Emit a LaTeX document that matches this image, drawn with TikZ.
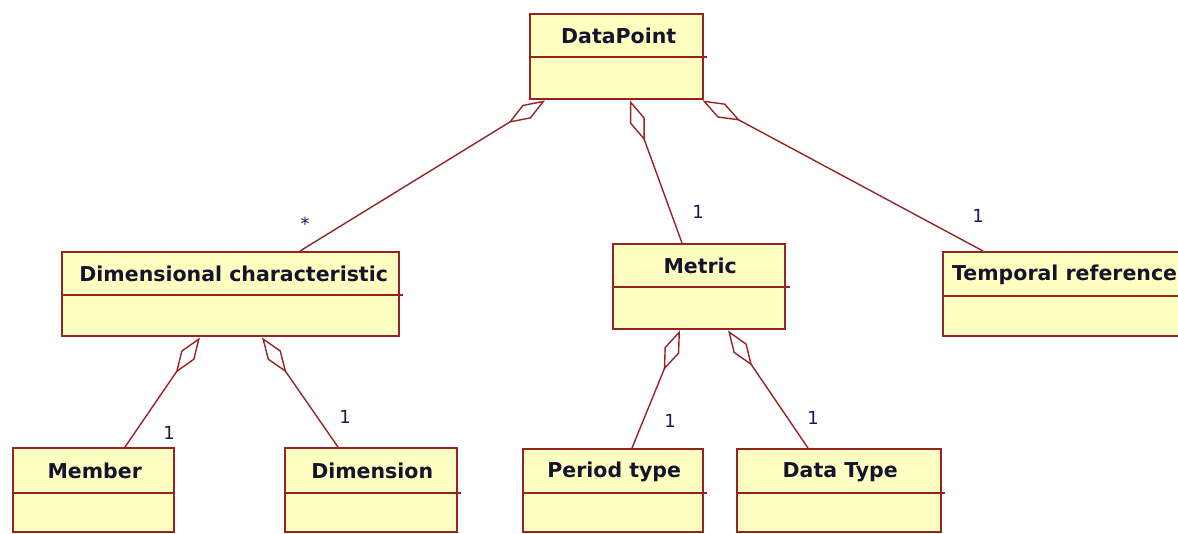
\documentclass[tikz,border=0pt]{standalone}
\usepackage{fontspec}
\setmainfont{DejaVu Sans}
\usetikzlibrary{calc,arrows.meta}
\definecolor{boxfill}{RGB}{255,255,194}
\definecolor{boxline}{RGB}{150,36,36}
\definecolor{txt}{RGB}{20,20,45}
\definecolor{numtxt}{RGB}{25,25,90}
\begin{document}
\begin{tikzpicture}[x=1pt,y=-1pt,
  classbox/.style={draw=boxline, fill=boxfill, line width=2.4pt, anchor=north west, inner sep=0pt},
  divider/.style={draw=boxline, line width=2.2pt},
  classtitle/.style={text=txt, font=\fontsize{20.5}{24}\selectfont\bfseries, inner sep=0pt},
  mult/.style={text=numtxt, font=\fontsize{18}{21}\selectfont, inner sep=0pt},
  aggr/.style={draw=boxline, line width=1.4pt, {Diamond[open, length=43pt, width=16pt, line width=1.4pt]}-}]
\useasboundingbox (0,0) rectangle (1178,533);
\clip (0,0) rectangle (1178,533);

% classes
\node[classbox, minimum width=173pt, minimum height=85pt] (dp) at (529,13) {};
\draw[divider] (dp.west |- 0,57) -- ([xshift=3pt]dp.east |- 0,57);
\node[classtitle] (dpt) at ($(dp.north)+(2,23)$) {DataPoint};

\node[classbox, minimum width=337pt, minimum height=84pt] (dc) at (61,251) {};
\draw[divider] (dc.west |- 0,295) -- ([xshift=3pt]dc.east |- 0,295);
\node[classtitle] (dct) at ($(dc.north)+(3,23)$) {Dimensional characteristic};

\node[classbox, minimum width=172pt, minimum height=85pt] (met) at (612,243) {};
\draw[divider] (met.west |- 0,287) -- ([xshift=4pt]met.east |- 0,287);
\node[classtitle] (mett) at ($(met.north)+(1,23)$) {Metric};

\node[classbox, minimum width=260pt, minimum height=84pt] (tr) at (942,251) {};
\draw[divider] (tr.west |- 0,296) -- (tr.east |- 0,296);
\node[classtitle, anchor=west] (trt) at ($(tr.north west)+(10,24)$) {Temporal reference};

\node[classbox, minimum width=161pt, minimum height=84pt] (mem) at (12,447) {};
\draw[divider] (mem.west |- 0,493) -- (mem.east |- 0,493);
\node[classtitle] (memt) at ($(mem.north)+(1,24)$) {Member};

\node[classbox, minimum width=172pt, minimum height=84pt] (dim) at (284,447) {};
\draw[divider] (dim.west |- 0,493) -- ([xshift=3pt]dim.east |- 0,493);
\node[classtitle] (dimt) at ($(dim.north)+(1,24)$) {Dimension};

\node[classbox, minimum width=180pt, minimum height=83pt] (pt) at (522,448) {};
\draw[divider] (pt.west |- 0,493) -- ([xshift=3pt]pt.east |- 0,493);
\node[classtitle] (ptt) at ($(pt.north)+(1,24)$) {Period type};

\node[classbox, minimum width=204pt, minimum height=83pt] (dt) at (736,448) {};
\draw[divider] (dt.west |- 0,493) -- ([xshift=3pt]dt.east |- 0,493);
\node[classtitle] (dtt) at ($(dt.north)+(1,24)$) {Data Type};

% aggregations
\draw[aggr] ($(dp.south west)+(16,0)$) -- ($(dc.north west)+(239,0)$);
\draw[aggr] ($(dp.south west)+(101,0)$) -- ($(met.north west)+(70,0)$);
\draw[aggr] ($(dp.south east)+(-2,0)$) -- ($(tr.north west)+(41,0)$);
\draw[aggr] ($(dc.south west)+(139,0)$) -- ($(mem.north west)+(113,0)$);
\draw[aggr] ($(dc.south west)+(201,0)$) -- ($(dim.north west)+(54,0)$);
\draw[aggr] ($(met.south west)+(68,0)$) -- ($(pt.north west)+(110,0)$);
\draw[aggr] ($(met.south west)+(116,0)$) -- ($(dt.north west)+(72,0)$);

% multiplicities
\node[mult] (m1) at (305,224) {*};
\node[mult] (m2) at (698,212) {1};
\node[mult] (m3) at (978,216) {1};
\node[mult] (m4) at (169,433) {1};
\node[mult] (m5) at (345,417) {1};
\node[mult] (m6) at (670,421) {1};
\node[mult] (m7) at (813,418) {1};
\end{tikzpicture}
\end{document}
